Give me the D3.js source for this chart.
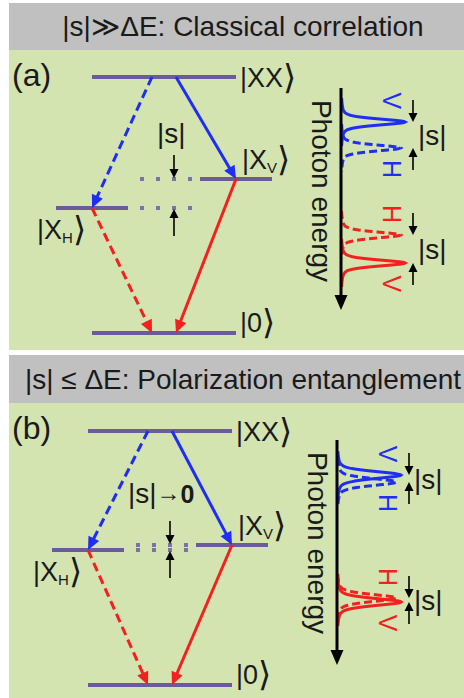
<!DOCTYPE html>
<html>
<head>
<meta charset="utf-8">
<script src="https://cdn.jsdelivr.net/npm/d3@7"></script>
<style>
  html, body { margin: 0; padding: 0; background: #ffffff; }
  svg { display: block; }
</style>
</head>
<body>
<svg id="fig" width="464" height="698"></svg>
<script>
// ---- Data -------------------------------------------------------------
// Level energies (arbitrary units, ground state = 0), order: |XX>, |X_V>, |X_H>, |0>
const levelKeys = ["XX", "XV", "XH", "G"];
const levelEnergiesA = [2.56, 1.54, 1.25, 0];
const levelEnergiesB = [2.54, 1.40, 1.35, 0];

// Cascade transitions (from -> to)
const transFrom = ["XX", "XX", "XH", "XV"];
const transTo   = ["XH", "XV", "G",  "G"];

// Emission lines on the photon-energy axis (axis units 0..100)
const linePol  = ["V", "H", "H", "V"];
const lineStep = ["XX", "XX", "X", "X"];          // XX->X photon or X->0 photon
const lineEnergyA = [15.3, 27.0, 66.2, 78.8];
const lineEnergyB = [15.6, 18.7, 70.2, 72.0];
const lineIntensityA = [1.0, 0.93, 0.93, 1.0];
const lineIntensityB = [1.0, 0.93, 0.93, 1.0];

const headerTexts = ["|s|\u226B\u0394E: Classical correlation", "|s| \u2264 \u0394E: Polarization entanglement"];
const panelTags = ["(a)", "(b)"];

// ---- Styles -----------------------------------------------------------
const FONT = "'Liberation Sans', Arial, 'DejaVu Sans', sans-serif";
const GREEN = "#d3e4b0", GREY = "#c0c0c0";
const LEVEL = "#6b5b9b", DOT = "#7d70ad";
const stepColor = d3.scaleOrdinal().domain(["XX", "X"]).range(["#1f2ef2", "#f2201e"]);
const polDash = d3.scaleOrdinal().domain(["V", "H"]).range([null, "9,5"]);

const svg = d3.select("#fig");

function arrow(g, x1, y1, x2, y2, o) {
  const dx = x2 - x1, dy = y2 - y1, L = Math.hypot(dx, dy);
  const ux = dx / L, uy = dy / L, px = -uy, py = ux;
  const bx = x2 - ux * o.head, by = y2 - uy * o.head;
  g.append("line")
    .attr("x1", x1).attr("y1", y1)
    .attr("x2", x2 - ux * (o.head - 1)).attr("y2", y2 - uy * (o.head - 1))
    .attr("stroke", o.color).attr("stroke-width", o.width)
    .attr("stroke-dasharray", o.dash || null);
  g.append("path")
    .attr("d", `M${x2},${y2}L${bx + px * o.half},${by + py * o.half}L${bx - px * o.half},${by - py * o.half}Z`)
    .attr("fill", o.color);
}

// ket label "|X_sub>" with a tall closing bracket
function ket(text, body, sub) {
  text.append("tspan").text("|" + body);
  if (sub) text.append("tspan").attr("font-size", 15).attr("dy", 4).text(sub);
  text.append("tspan").attr("font-family", "'DejaVu Sans', sans-serif")
    .attr("font-size", 34).attr("dy", sub ? -2 : 2).text("\u27E9");
}

const panels = [
  { tag: panelTags[0], header: headerTexts[0], headTop: 3, bodyTop: 50, bodyBottom: 350,
    energies: levelEnergiesA, base: 333, cx: 164, sLabelDx: -7, sLabelDy: -36, sTo0: false,
    lineE: lineEnergyA, lineI: lineIntensityA, axisX: 341, axisTop: 88, axisBottom: 310,
    width: 3.6 },
  { tag: panelTags[1], header: headerTexts[1], headTop: 355, bodyTop: 403, bodyBottom: 698,
    energies: levelEnergiesB, base: 685, cx: 160, sLabelDx: -32, sLabelDy: -42, sTo0: true,
    lineE: lineEnergyB, lineI: lineIntensityB, axisX: 337, axisTop: 440, axisBottom: 665,
    width: 4.2 }
];

panels.forEach(p => {
  const g = svg.append("g");

  // header and body backgrounds
  g.append("rect").attr("x", 9).attr("y", p.headTop).attr("width", 455)
    .attr("height", p.bodyTop - p.headTop).attr("fill", GREY);
  g.append("rect").attr("x", 9).attr("y", p.bodyTop).attr("width", 455)
    .attr("height", p.bodyBottom - p.bodyTop).attr("fill", GREEN);
  g.append("text").attr("x", 243).attr("y", p.bodyTop - 14)
    .attr("text-anchor", "middle").attr("font-family", FONT).attr("font-size", 28)
    .attr("fill", "#1a1a1a").text(p.header);
  g.append("text").attr("x", 12).attr("y", p.bodyTop + 36)
    .attr("font-family", FONT).attr("font-size", 32).attr("fill", "#1a1a1a").text(p.tag);

  // ---- level diagram ----
  const y = d3.scaleLinear().domain([0, 1]).range([p.base, p.base - 100]);
  const branch = d3.scalePoint().domain(["XH", "mid", "XV"]).range([p.cx - 72, p.cx + 72]);
  const E = {}; levelKeys.forEach((k, i) => E[k] = p.energies[i]);
  const lx = k => (k === "XH" || k === "XV") ? branch(k) : branch("mid");
  const halfW = k => (k === "XH" || k === "XV") ? 36 : 72;

  levelKeys.forEach(k => {
    g.append("line").attr("x1", lx(k) - halfW(k)).attr("x2", lx(k) + halfW(k))
      .attr("y1", y(E[k])).attr("y2", y(E[k]))
      .attr("stroke", LEVEL).attr("stroke-width", 4);
  });
  // dotted continuation of the two exciton levels
  [-22, -6, 10, 26].forEach(d => {
    ["XV", "XH"].forEach(k => {
      g.append("rect").attr("x", p.cx + d - 2).attr("y", y(E[k]) - 2)
        .attr("width", 4).attr("height", 4).attr("fill", DOT);
    });
  });

  // transitions
  transFrom.forEach((f, i) => {
    const t = transTo[i];
    const color = stepColor(f === "XX" ? "XX" : "X");
    const dash = polDash(t === "XH" || f === "XH" ? "H" : "V");
    const side = (t === "XH" || f === "XH") ? -1 : 1;
    const x1 = f === "XX" ? branch("mid") + side * 12 : lx(f);
    const x2 = t === "G" ? branch("mid") + side * 12 : lx(t);
    arrow(g, x1, y(E[f]), x2, y(E[t]), { color, width: 3, dash, head: 13, half: 6 });
  });

  // splitting arrows
  const ax = p.cx + 10;
  arrow(g, ax, y(E.XV) - 24, ax, y(E.XV) - 1, { color: "#000", width: 1.6, head: 9, half: 4.5 });
  arrow(g, ax, y(E.XH) + 28, ax, y(E.XH) + 1, { color: "#000", width: 1.6, head: 9, half: 4.5 });

  const sLab = g.append("text").attr("x", p.cx + p.sLabelDx).attr("y", y(E.XV) + p.sLabelDy)
    .attr("font-family", FONT).attr("font-size", 28).attr("fill", "#1a1a1a");
  sLab.append("tspan").text("|s|");
  if (p.sTo0) {
    sLab.append("tspan").attr("font-size", 24).attr("dy", -2).text("\u2192");
    sLab.append("tspan").attr("font-weight", "bold").attr("font-size", 25).attr("dy", 2).text("0");
  }

  // level labels
  const lab = (x, yy) => g.append("text").attr("x", x).attr("y", yy)
    .attr("font-family", FONT).attr("font-size", 27).attr("fill", "#1a1a1a");
  ket(lab(branch("mid") + 76, y(E.XX) + 10), "XX");
  ket(lab(branch("mid") + 78, y(E.XV) - 10), "X", "V");
  ket(lab(branch("mid") - 127, y(E.XH) + 31), "X", "H");
  ket(lab(branch("mid") + 76, y(E.G) - 1), "0");

  // ---- spectrum ----
  const ey = d3.scaleLinear().domain([0, 100]).range([p.axisTop, p.axisBottom]);
  const ix = d3.scaleLinear().domain([0, 1]).range([p.axisX, p.axisX + 64]);
  const gam = p.width; // half width in pixels
  const profile = (d) => {
    const r = d * d / (gam * gam);
    return 0.45 / (1 + r) + 0.55 * Math.exp(-Math.LN2 * r);
  };

  linePol.forEach((pol, i) => {
    const c = ey(p.lineE[i]);
    const pts = d3.range(-24, 24.01, 0.5).map(d => [ix(p.lineI[i] * profile(d)), c + d]);
    g.append("path").attr("d", d3.line()(pts)).attr("fill", "none")
      .attr("stroke", stepColor(lineStep[i])).attr("stroke-width", 3)
      .attr("stroke-dasharray", pol === "H" ? "8,4" : null);
  });

  // axis with arrow
  arrow(g, p.axisX, p.axisTop, p.axisX, p.axisBottom, { color: "#000", width: 3, head: 15, half: 6.5 });
  g.append("text")
    .attr("transform", `translate(${p.axisX - 29},${p.axisTop + 103}) rotate(90)`)
    .attr("text-anchor", "middle").attr("font-family", FONT).attr("font-size", 28)
    .attr("fill", "#1a1a1a").text("Photon energy");

  // pairs: upper/lower line of each cascade step
  [[0, 1], [2, 3]].forEach(([a, b]) => {
    const ca = ey(p.lineE[a]), cb = ey(p.lineE[b]);
    const col = stepColor(lineStep[a]);
    [[a, ca - 21], [b, cb + 21]].forEach(([k, yy]) => {
      g.append("text")
        .attr("transform", `translate(${p.axisX + 42},${yy}) rotate(90)`)
        .attr("text-anchor", "middle").attr("font-family", FONT).attr("font-size", 25)
        .attr("fill", col).text(linePol[k]);
    });
    const sx = p.axisX + 72;
    arrow(g, sx, ca - 22, sx, ca, { color: "#000", width: 1.6, head: 9, half: 4.5 });
    arrow(g, sx, cb + 22, sx, cb, { color: "#000", width: 1.6, head: 9, half: 4.5 });
    g.append("text").attr("x", p.axisX + 77).attr("y", (ca + cb) / 2 + 10)
      .attr("font-family", FONT).attr("font-size", 28).attr("fill", "#1a1a1a").text("|s|");
  });
});
</script>
</body>
</html>
